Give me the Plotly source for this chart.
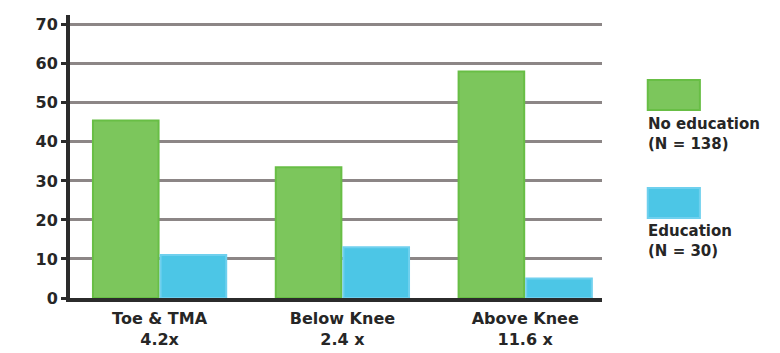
import plotly.graph_objects as go

categories = ["Toe & TMA<br>4.2x", "Below Knee<br>2.4 x", "Above Knee<br>11.6 x"]
series_names = ["No education<br>(N = 138)", "Education<br>(N = 30)"]
no_education = [45.5, 33.5, 58]
education = [11, 13, 5]
y_ticks = [0, 10, 20, 30, 40, 50, 60, 70]

green = "#7cc65c"
green_edge = "#68be45"
blue = "#4cc6e6"
blue_edge = "#6fd0ee"

fig = go.Figure()
fig.add_trace(go.Bar(x=[0, 1, 2], y=no_education, name=series_names[0],
                     marker=dict(color=green, line=dict(color=green_edge, width=2))))
fig.add_trace(go.Bar(x=[0, 1, 2], y=education, name=series_names[1],
                     marker=dict(color=blue, line=dict(color=blue_edge, width=2))))

font_family = "DejaVu Sans, Liberation Sans, sans-serif"
fig.update_layout(
    width=772, height=345,
    margin=dict(l=62, r=178, t=7, b=55),
    paper_bgcolor="white", plot_bgcolor="white",
    barmode="group", bargap=0.26, bargroupgap=0.03,
    showlegend=False,
    font=dict(family=font_family, color="#262626"),
    xaxis=dict(range=[-0.49, 2.42], tickmode="array", tickvals=[0, 1, 2],
               ticktext=categories, showgrid=False, zeroline=False,
               showline=True, linecolor="#2b2b2b", linewidth=4,
               ticks="", ticklabelstandoff=3, automargin=False,
               tickfont=dict(size=16, family=font_family, weight="bold")),
    yaxis=dict(range=[0, 72.5], tickmode="array", tickvals=y_ticks,
               showgrid=True, gridcolor="#8c8686", gridwidth=3,
               zeroline=False, showline=True, linecolor="#2b2b2b", linewidth=4,
               ticks="outside", ticklen=5, tickwidth=3, tickcolor="#2b2b2b",
               automargin=False,
               tickfont=dict(size=16, family=font_family, weight="bold")),
)

# custom legend
legend_items = [(series_names[0], green, green_edge, 0.770, 0.664, 0.655),
                (series_names[1], blue, blue_edge, 0.389, 0.283, 0.274)]
for name, col, edge, y1, y0, ytext in legend_items:
    fig.add_shape(type="rect", xref="paper", yref="paper",
                  x0=1.086, x1=1.184, y0=y0, y1=y1,
                  fillcolor=col, line=dict(color=edge, width=2))
    fig.add_annotation(xref="paper", yref="paper", x=1.082, y=ytext,
                       xanchor="left", yanchor="top", text=name, showarrow=False,
                       align="left",
                       font=dict(size=15, family=font_family, color="#262626", weight="bold"))

fig.write_html("out.html")
